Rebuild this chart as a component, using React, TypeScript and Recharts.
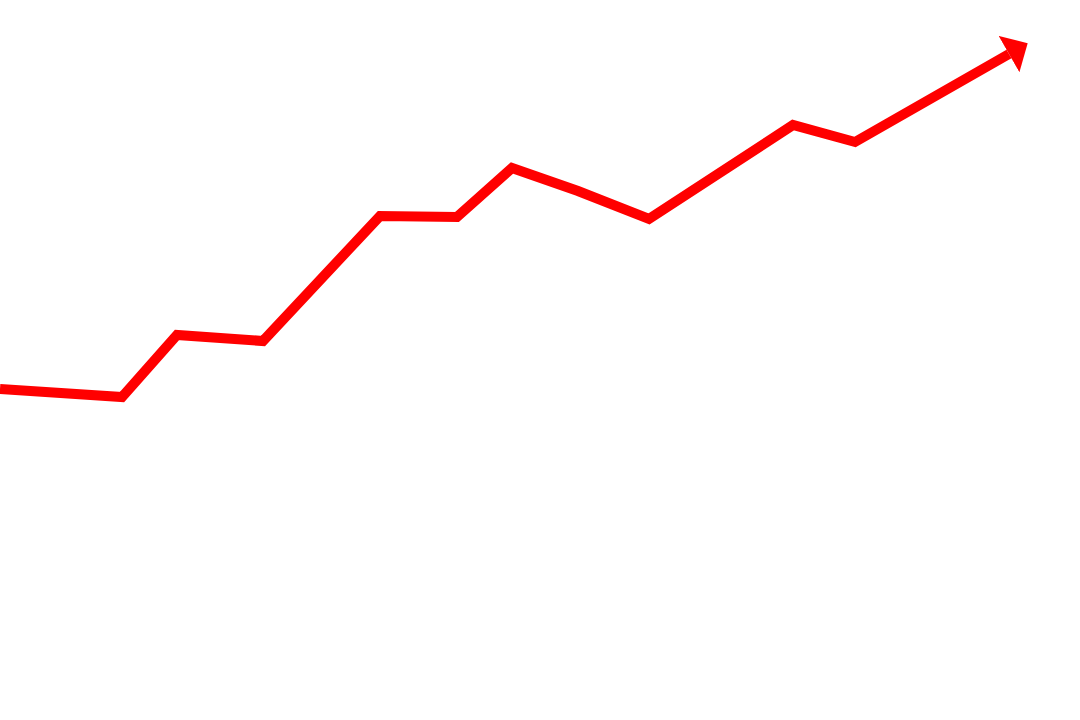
import { LineChart, Line, XAxis, YAxis } from "recharts";

// horizontal positions and heights (x from left, value from bottom)
const positions = [0, 122, 177, 263, 380, 457, 512, 578, 649, 793, 855, 1009];
const values = [331, 323, 385, 379, 504, 503, 552, 529, 501, 595, 578, 666];

const data = positions.map((x, i) => ({ x, value: values[i] }));

export default function App() {
  return (
    <div style={{ width: 1080, height: 720, background: "#fff" }}>
      <style>{"body{margin:0}"}</style>
      <LineChart
        width={1080}
        height={720}
        data={data}
        margin={{ top: 0, right: 0, bottom: 0, left: 0 }}
      >
        <defs>
          <marker
            id="arrowHead"
            markerUnits="userSpaceOnUse"
            markerWidth={22}
            markerHeight={42}
            viewBox="0 0 21 41"
            refX={0}
            refY={20.5}
            orient="auto"
          >
            <path d="M0,0 L21,20.5 L0,41 Z" fill="#ff0000" />
          </marker>
        </defs>
        <XAxis dataKey="x" type="number" domain={[0, 1080]} hide />
        <YAxis type="number" domain={[0, 720]} hide />
        <Line
          type="linear"
          dataKey="value"
          stroke="#ff0000"
          strokeWidth={10}
          strokeLinejoin="miter"
          dot={false}
          activeDot={false}
          markerEnd="url(#arrowHead)"
          isAnimationActive={false}
        />
      </LineChart>
    </div>
  );
}
